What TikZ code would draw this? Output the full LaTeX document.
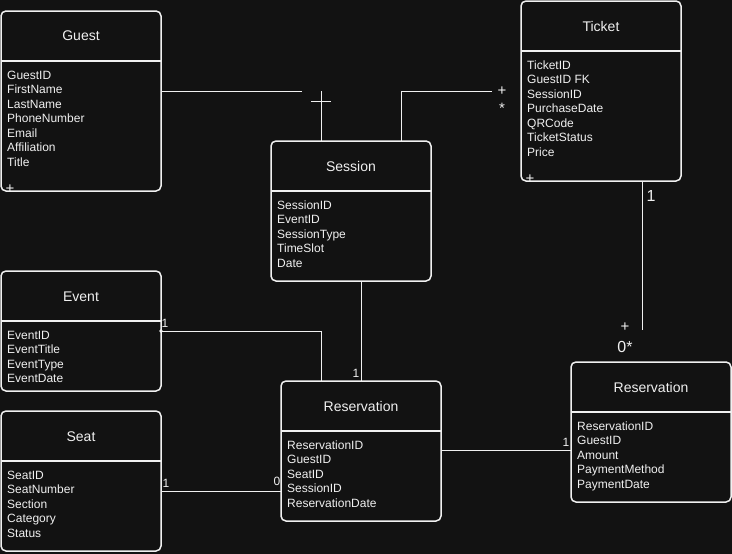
\documentclass[tikz,border=0pt]{standalone}
\usepackage{fontspec}
\setmainfont{Liberation Sans}
\usetikzlibrary{calc}
\definecolor{bg}{HTML}{121212}
\definecolor{fg}{HTML}{F0F0F0}
\tikzset{
  entbox/.style={draw=fg, line width=1.5pt, rounded corners=5pt, fill=bg, minimum width=160pt, inner sep=0pt, outer sep=0pt, anchor=north west},
  entline/.style={draw=fg, line width=1.5pt},
  enttitle/.style={text=fg, font=\fontsize{14}{16.8}\selectfont, inner sep=0pt, anchor=base},
  entattr/.style={text=fg, font=\fontsize{12}{14.4}\selectfont, inner sep=0pt, anchor=base west},
  conn/.style={draw=fg, line width=1pt},
  lbl/.style={text=fg, font=\fontsize{12}{14.4}\selectfont, inner sep=0pt},
  midlbl/.style={text=fg, font=\fontsize{15}{18}\selectfont, inner sep=0pt},
  biglbl/.style={text=fg, font=\fontsize{16}{19}\selectfont, inner sep=0pt},
}
\newcommand\erentity[6]{%
  \node[entbox, minimum height=#4pt] (#1) at (#2,#3) {};
  \draw[entline] (#2,{#3+50}) -- ({#2+160},{#3+50});
  \node[enttitle] (#1-t) at ({#2+80},{#3+30}) {#5};
  \foreach \a [count=\i from 0] in {#6}
    \node[entattr] (#1-a\i) at ({#2+6},{#3+68+14.5*\i}) {\a};
}
\begin{document}
\begin{tikzpicture}[x=1pt,y=-1pt]
\fill[bg] (0,0) rectangle (732,554);
\useasboundingbox (0,0) rectangle (732,554);

\erentity{guest}{1}{11}{180}{Guest}{GuestID,FirstName,LastName,PhoneNumber,Email,Affiliation,Title}
\erentity{ticket}{521}{1}{180}{Ticket}{TicketID,GuestID FK,SessionID,PurchaseDate,QRCode,TicketStatus,Price}
\erentity{session}{271}{141}{140}{Session}{SessionID,EventID,SessionType,TimeSlot,Date}
\erentity{event}{1}{271}{120}{Event}{EventID,EventTitle,EventType,EventDate}
\erentity{seat}{1}{411}{140}{Seat}{SeatID,SeatNumber,Section,Category,Status}
\erentity{resv}{281}{381}{140}{Reservation}{ReservationID,GuestID,SeatID,SessionID,ReservationDate}
\erentity{resvtwo}{571}{362}{140}{Reservation}{ReservationID,GuestID,Amount,PaymentMethod,PaymentDate}

% clipped plus signs at bottom-left of Guest and Ticket
\begin{scope}
  \clip (2,12) rectangle (160,190);
  \node[midlbl] (gplus) at (10,189.5) {+};
\end{scope}
\begin{scope}
  \clip (522,2) rectangle (680,180);
  \node[midlbl] (tplus) at (530,179.5) {+};
\end{scope}

% Guest -- Session
\coordinate (j1) at (302,91);
\coordinate (j2) at (321,91);
\draw[conn] (guest.east |- j1) -- (j1);
\draw[conn] (j2) -- (j2 |- session.north);
\coordinate (cb1) at (311,101);
\coordinate (cb2) at (331,101);
\draw[conn] (cb1) -- (cb2);

% Session -- Ticket
\coordinate (j3) at (401,91);
\coordinate (j4) at (492,91);
\draw[conn] (j3 |- session.north) -- (j3) -- (j4);
\node[midlbl] (l1) at (502,91) {+};
\node[midlbl] (l2) at (502,108) {*};

% Ticket -- Reservation (right)
\coordinate (j5) at (642,330);
\draw[conn] (j5 |- ticket.south) -- (j5);
\node[biglbl] (l3) at (651,196) {1};
\node[midlbl] (l4) at (625,327.5) {+};
\node[biglbl] (l5) at (625,347) {0*};

% Session -- Reservation
\coordinate (j6) at (361,300);
\draw[conn] (j6 |- session.south) -- (j6 |- resv.north);
\node[lbl] (l6) at (356,373) {1};

% Event -- Reservation
\coordinate (j7) at (321,331);
\draw[conn] (event.east |- j7) -- (j7) -- (j7 |- resv.north);
\fill[fg] (event.east |- j7) circle (1.8pt);
\node[lbl] (l7) at (165,323) {1};

% Seat -- Reservation
\coordinate (j8) at (200,491);
\draw[conn] (seat.east |- j8) -- (resv.west |- j8);
\node[lbl] (l8) at (166,483) {1};
\node[lbl] (l9) at (277,481) {0};

% Reservation -- Reservation (right)
\coordinate (j9) at (500,450);
\draw[conn] (resv.east |- j9) -- (resvtwo.west |- j9);
\node[lbl] (l10) at (566,442) {1};
\end{tikzpicture}
\end{document}
